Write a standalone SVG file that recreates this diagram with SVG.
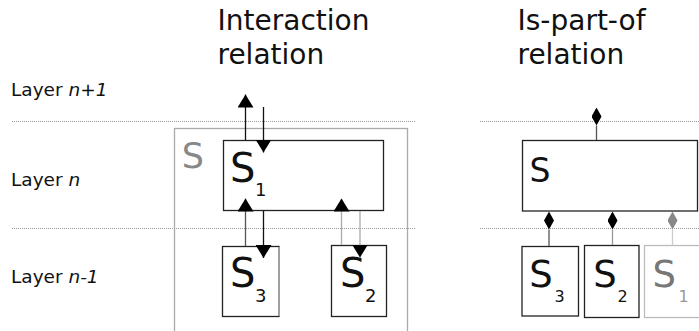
<svg xmlns="http://www.w3.org/2000/svg" width="699" height="331" viewBox="0 0 699 331">
<style>
text{font-family:"DejaVu Sans","Liberation Sans",sans-serif;fill:#111}
.title{font-size:28px}
.layer{font-size:18.5px}
.big{font-size:40px}
.sub{font-size:18px}
.box{fill:#fff;stroke:#222;stroke-width:1.3}
.dot{stroke:#999;stroke-width:1;stroke-dasharray:1 1;fill:none}
.ln{stroke:#111;stroke-width:1.3;fill:none}
.lg{stroke:#aaa;stroke-width:1.3;fill:none}
</style>
<defs>
<marker id="arr" markerUnits="userSpaceOnUse" markerWidth="13" markerHeight="16" viewBox="0 0 13 16" refX="13" refY="8" orient="auto">
<path d="M0,0 L13,8 L0,16 Z" fill="#000"/>
</marker>
<marker id="dia" markerUnits="userSpaceOnUse" markerWidth="18" markerHeight="10" viewBox="0 0 18 10" refX="0" refY="5" orient="auto">
<path d="M0,5 L9,0 L18,5 L9,10 Z" fill="#000"/>
</marker>
<marker id="diag" markerUnits="userSpaceOnUse" markerWidth="18" markerHeight="10" viewBox="0 0 18 10" refX="0" refY="5" orient="auto">
<path d="M0,5 L9,0 L18,5 L9,10 Z" fill="#888"/>
</marker>
</defs>
<rect width="699" height="331" fill="#fff"/>

<g id="titles">
<text class="title" x="217.5" y="29.5">Interaction</text>
<text class="title" x="217.5" y="63.5">relation</text>
<text class="title" x="517.5" y="29.5">Is-part-of</text>
<text class="title" x="517.5" y="63.5">relation</text>
</g>

<g id="layers">
<text class="layer" x="11" y="96">Layer <tspan font-style="italic">n+1</tspan></text>
<text class="layer" x="11" y="186">Layer <tspan font-style="italic">n</tspan></text>
<text class="layer" x="11" y="283">Layer <tspan font-style="italic">n-1</tspan></text>
<line class="dot" x1="12" y1="121.5" x2="415" y2="121.5"/>
<line class="dot" x1="480" y1="121.5" x2="699" y2="121.5"/>
<line class="dot" x1="12" y1="228.5" x2="415" y2="228.5"/>
<line class="dot" x1="480" y1="228.5" x2="699" y2="228.5"/>
</g>

<g id="S-container">
<rect x="174.5" y="128.5" width="233" height="215" fill="none" stroke="#aaa" stroke-width="1.3"/>
<text x="181.7" y="168" font-size="35" style="fill:#888">S</text>
</g>

<g id="S1">
<rect class="box" x="223.5" y="140.5" width="160" height="70"/>
<text class="big" x="230" y="181.7">S</text>
<text class="sub" x="255" y="196">1</text>
</g>

<g id="S3-left">
<rect class="box" x="222.5" y="246.5" width="56.5" height="70"/>
<line x1="279" y1="247" x2="279" y2="316" stroke="#bbb" stroke-width="1.3"/>
<text class="big" x="230" y="286.7">S</text>
<text class="sub" x="255" y="301.7">3</text>
</g>

<g id="S2-left">
<rect class="box" x="331.5" y="245.5" width="55" height="71"/>
<text class="big" x="340" y="286.7">S</text>
<text class="sub" x="365" y="301.7">2</text>
</g>

<g id="S-right">
<rect class="box" x="522.5" y="140.5" width="175" height="70.5"/>
<text x="529.5" y="181.7" font-size="33">S</text>
</g>

<g id="S3-right">
<rect class="box" x="522" y="246.5" width="56.5" height="69.5"/>
<text x="529.3" y="286.7" font-size="37">S</text>
<text x="554.5" y="301.7" font-size="16">3</text>
</g>

<g id="S2-right">
<rect class="box" x="584.5" y="245.5" width="54.5" height="72"/>
<text x="593.3" y="286.7" font-size="37">S</text>
<text x="617.5" y="301.7" font-size="16">2</text>
</g>

<g id="S1-right">
<rect x="644.5" y="245.5" width="60" height="72" fill="#fff" stroke="#bbb" stroke-width="1.3"/>
<text x="652.6" y="286.7" font-size="37" style="fill:#777">S</text>
<text x="678.5" y="301.7" font-size="16" style="fill:#999">1</text>
</g>

<g id="connectors">
<line class="ln" x1="245.5" y1="140" x2="245.5" y2="94.5" marker-end="url(#arr)"/>
<line class="ln" x1="263.5" y1="107" x2="263.5" y2="152.5" stroke="#444" marker-end="url(#arr)"/>
<line x1="245.5" y1="246" x2="245.5" y2="198.5" stroke="#555" stroke-width="1.3" marker-end="url(#arr)"/>
<line class="ln" x1="263.5" y1="211" x2="263.5" y2="258" marker-end="url(#arr)"/>
<line class="lg" x1="341.5" y1="245" x2="341.5" y2="198.5" marker-end="url(#arr)"/>
<line class="lg" x1="360" y1="211" x2="360" y2="257.5" marker-end="url(#arr)"/>
<line x1="596.5" y1="140" x2="596.5" y2="125.5" stroke="#555" stroke-width="1.3" marker-end="url(#dia)"/>
<line x1="549" y1="246" x2="549" y2="229.5" stroke="#555" stroke-width="1.3" marker-end="url(#dia)"/>
<line x1="612.5" y1="245" x2="612.5" y2="229.5" stroke="#999" stroke-width="1.3" marker-end="url(#dia)"/>
<line x1="672.5" y1="245" x2="672.5" y2="229.5" stroke="#ccc" stroke-width="1.3" marker-end="url(#diag)"/>
</g>
</svg>
